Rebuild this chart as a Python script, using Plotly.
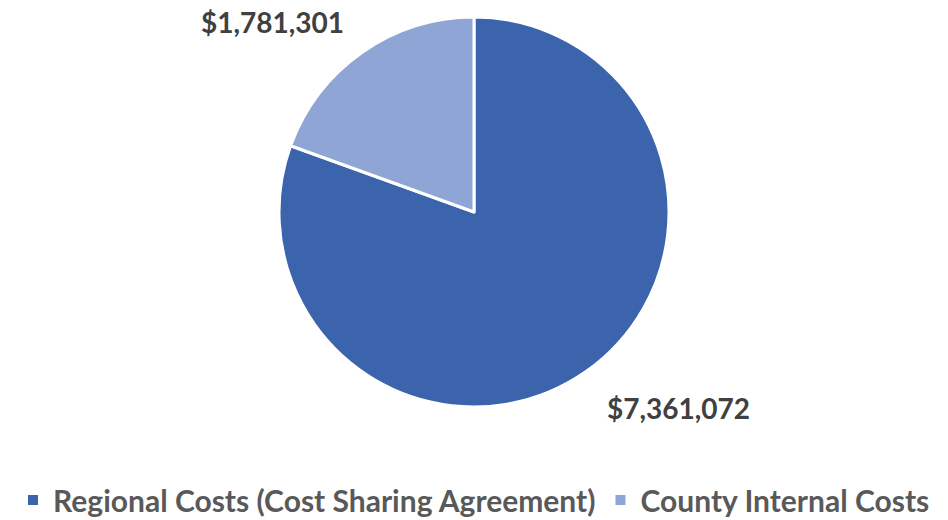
import plotly.graph_objects as go

categories = ["Regional Costs (Cost Sharing Agreement)", "County Internal Costs"]
values = [7361072, 1781301]
colors = ["#3B64AD", "#8FA5D5"]

fig = go.Figure(go.Pie(
    labels=categories,
    values=values,
    sort=False,
    direction="clockwise",
    rotation=0,
    marker=dict(colors=colors, line=dict(color="white", width=3)),
    textinfo="none",
    hoverinfo="label+value",
    domain=dict(x=[(474 - 195) / 948, (474 + 195) / 948], y=[1 - 407 / 520, 1 - 17 / 520]),
))

label_pos = [(678 / 948, 1 - 408 / 520), (272 / 948, 1 - 22 / 520)]
for v, (x, y) in zip(values, label_pos):
    fig.add_annotation(x=x, y=y, xref="paper", yref="paper", text=f"${v:,}", showarrow=False,
                       font=dict(family="Lato", size=28, color="#404040", weight="bold"),
                       xanchor="center", yanchor="middle")

fig.update_layout(
    width=948, height=520,
    margin=dict(l=0, r=0, t=0, b=0, autoexpand=False),
    paper_bgcolor="white", plot_bgcolor="white",
    showlegend=True,
    legend=dict(orientation="h", x=0.5, xanchor="center", y=1 - 500 / 520, yanchor="middle",
                font=dict(family="Lato", size=30, color="#595959", weight="bold"),
                itemsizing="constant", traceorder="normal"),
)

fig.write_html("out.html", post_script="document.body.style.margin='0';",
               config={"displayModeBar": False})
